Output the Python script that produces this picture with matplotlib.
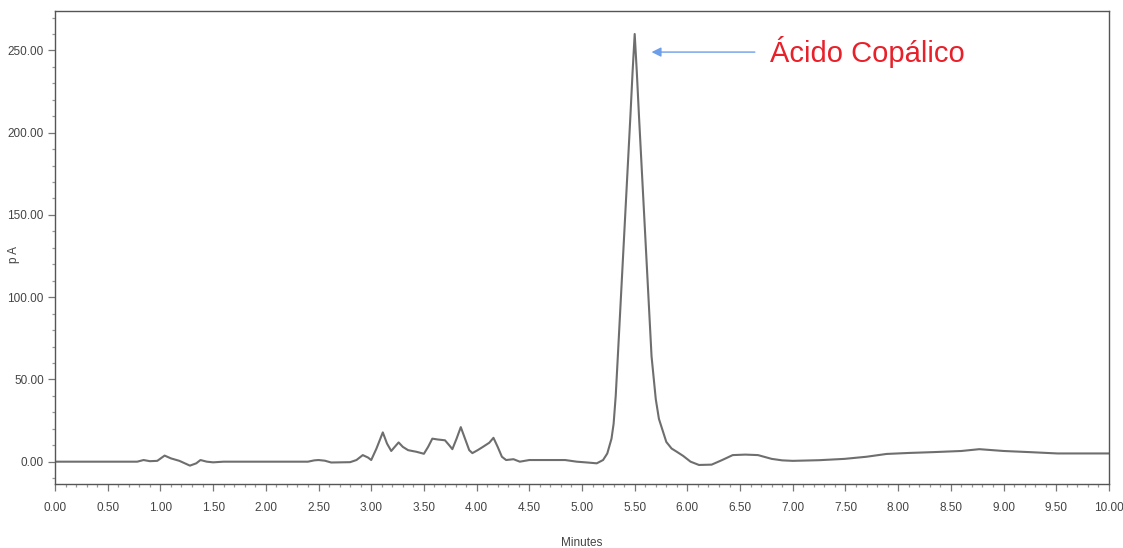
import matplotlib
matplotlib.use('Agg')
import matplotlib.pyplot as plt
from matplotlib.ticker import MultipleLocator, FormatStrFormatter

plt.rcParams['font.family'] = ['Liberation Sans', 'DejaVu Sans']

# chromatogram (minutes, pA)
time_min = [0.00, 0.50, 0.78, 0.84, 0.90, 0.97, 1.04, 1.10, 1.18, 1.28, 1.34, 1.38, 1.44, 1.50,
            1.60, 2.00, 2.40, 2.46, 2.50, 2.56, 2.62, 2.80, 2.86, 2.92, 2.97, 3.00, 3.05, 3.11,
            3.15, 3.19, 3.23, 3.26, 3.30, 3.35, 3.43, 3.50, 3.54, 3.58, 3.63, 3.70, 3.74, 3.77,
            3.81, 3.85, 3.89, 3.93, 3.96, 4.01, 4.06, 4.12, 4.16, 4.20, 4.24, 4.28, 4.35, 4.41,
            4.50, 4.70, 4.84, 4.95, 5.05, 5.14, 5.20, 5.24, 5.28, 5.30, 5.32, 5.34, 5.38, 5.42,
            5.46, 5.48, 5.50, 5.52, 5.54, 5.58, 5.62, 5.66, 5.70, 5.73, 5.76, 5.80, 5.85, 5.90,
            5.96, 6.03, 6.11, 6.23, 6.33, 6.43, 6.55, 6.67, 6.80, 6.90, 7.00, 7.25, 7.49, 7.70,
            7.89, 8.10, 8.33, 8.60, 8.77, 9.00, 9.25, 9.51, 9.75, 10.00]
signal_pa = [0.0, 0.0, 0.0, 1.0, 0.3, 0.5, 3.7, 2.0, 0.5, -2.4, -1.0, 1.0, 0.0, -0.4,
             0.0, 0.0, 0.0, 0.8, 1.0, 0.6, -0.5, -0.3, 1.0, 4.0, 2.5, 1.0, 8.0, 17.8,
             11.0, 6.5, 9.5, 11.7, 9.0, 7.0, 6.0, 4.8, 9.0, 14.0, 13.5, 13.0, 10.0, 7.6,
             14.0, 21.0, 14.0, 7.0, 5.2, 7.0, 9.0, 11.5, 14.5, 9.0, 3.0, 1.0, 1.5, 0.0,
             1.0, 1.0, 1.0, 0.0, -0.5, -1.0, 1.0, 5.0, 14.0, 23.0, 40.0, 64.0, 113.0, 162.0,
             211.0, 237.0, 260.0, 237.0, 211.0, 162.0, 113.0, 64.0, 38.0, 26.0, 20.0, 12.0, 8.0, 6.0,
             3.5, 0.0, -2.0, -1.8, 1.0, 4.0, 4.3, 4.0, 1.7, 0.8, 0.5, 0.9, 1.7, 3.0,
             4.7, 5.3, 5.8, 6.5, 7.6, 6.5, 5.8, 5.0, 5.0, 5.0]

peak_label = 'Ácido Copálico'
peak_x = 5.66
peak_y = 249.0

fig = plt.figure(figsize=(11.23, 5.48), dpi=100)
ax = fig.add_axes([0.049, 0.117, 0.9385, 0.863])

ax.plot(time_min, signal_pa, color='#6e6e6e', lw=1.5)

ax.set_xlim(0, 10)
ax.set_ylim(-13.5, 274)

ax.xaxis.set_major_locator(MultipleLocator(0.5))
ax.xaxis.set_minor_locator(MultipleLocator(0.1))
ax.yaxis.set_major_locator(MultipleLocator(50))
ax.yaxis.set_minor_locator(MultipleLocator(10))
ax.xaxis.set_major_formatter(FormatStrFormatter('%.2f'))
ax.yaxis.set_major_formatter(FormatStrFormatter('%.2f'))

for s in ax.spines.values():
    s.set_color('#555555')
    s.set_linewidth(1.0)

ax.tick_params(axis='both', which='major', direction='out', length=5, width=0.9,
               color='#777777', labelsize=8.5, labelcolor='#444444')
ax.tick_params(axis='both', which='minor', direction='out', length=2.5, width=0.9,
               color='#999999')
ax.tick_params(axis='x', which='major', pad=8)
ax.tick_params(axis='y', which='major', pad=3)

ax.set_xlabel('Minutes', fontsize=8.5, color='#444444')
ax.set_ylabel('p A', fontsize=8.5, color='#444444')
ax.xaxis.set_label_coords(0.5, -0.112)
ax.yaxis.set_label_coords(-0.033, 0.484)

ax.annotate('', xy=(peak_x, peak_y), xytext=(6.64, peak_y),
            arrowprops=dict(arrowstyle='-|>', color='#6d9eeb', lw=1.0,
                            mutation_scale=14, shrinkA=0, shrinkB=0))
ax.text(6.78, peak_y, peak_label, color='#e8202a', fontsize=21,
        va='center', ha='left')

fig.savefig('out.png', dpi=100)
